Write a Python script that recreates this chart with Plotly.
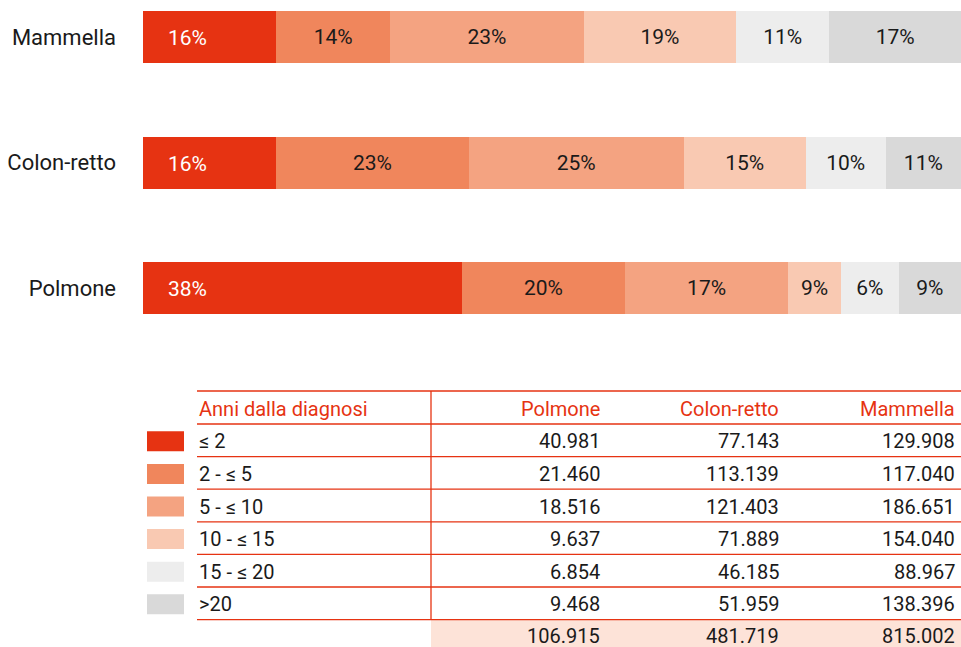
import plotly.graph_objects as go

W, H = 961, 647

# ---------------- data ----------------
categories = ["Polmone", "Colon-retto", "Mammella"]
classes = ["≤ 2", "2 - ≤ 5", "5 - ≤ 10", "10 - ≤ 15", "15 - ≤ 20", ">20"]
colors = ["#e63312", "#f0865c", "#f4a381", "#f9c9b2", "#ededed", "#d9d9d9"]

# cases by years since diagnosis (table)
polmone = [40981, 21460, 18516, 9637, 6854, 9468]
colon_retto = [77143, 113139, 121403, 71889, 46185, 51959]
mammella = [129908, 117040, 186651, 154040, 88967, 138396]
totals = [106915, 481719, 815002]

# share of the bar length per class, as drawn (%)
share_polmone = [39.0, 19.9, 20.0, 6.4, 7.1, 7.6]
share_colon_retto = [16.3, 23.5, 26.3, 14.9, 9.8, 9.2]
share_mammella = [16.3, 13.9, 23.7, 18.6, 11.4, 16.1]

# printed percentage labels
label_polmone = ["38%", "20%", "17%", "9%", "6%", "9%"]
label_colon_retto = ["16%", "23%", "25%", "15%", "10%", "11%"]
label_mammella = ["16%", "14%", "23%", "19%", "11%", "17%"]

table_header = ["Anni dalla diagnosi", "Polmone", "Colon-retto", "Mammella"]

# ---------------- helpers ----------------
FONT = "Roboto"
RED = "#e63312"
TXT = "#1a1a1a"


def px(x):
    return x / W


def py(y):
    return 1 - y / H


def fmt(v):
    return f"{v:,}".replace(",", ".")


shares = [share_polmone, share_colon_retto, share_mammella]
labels = [label_polmone, label_colon_retto, label_mammella]

fig = go.Figure()
for i, cls in enumerate(classes):
    fig.add_trace(go.Bar(
        y=categories,
        x=[s[i] for s in shares],
        orientation="h",
        name=cls,
        marker=dict(color=colors[i], line=dict(width=0)),
        text=[l[i] for l in labels] if i > 0 else None,
        textposition="inside" if i > 0 else "none",
        insidetextanchor="middle",
        textangle=0,
        textfont=dict(family=FONT, size=21, color=TXT),
        hoverinfo="skip",
    ))

annotations = []
# first-class labels (white, near the bar start)
for c, l in zip(categories, labels):
    annotations.append(dict(
        x=0, y=c, xref="x", yref="y", text=l[0], showarrow=False,
        xanchor="left", yanchor="middle", xshift=23, yshift=-1,
        font=dict(family=FONT, size=21, color="white"),
    ))

# ---------------- table ----------------
x_left, x_vline, x_right = 197, 431, 961
col_right = [602, 781, 957]
y_top = 391
y_head = 424
row_h = 32.6
n_rows = len(classes)
y_lines = [y_top, y_head] + [y_head + row_h * (k + 1) for k in range(n_rows)]
y_total_top = y_lines[-1]
TFS = 20

shapes = []
# total row background
shapes.append(dict(type="rect", xref="paper", yref="paper",
                   x0=px(x_vline), x1=px(x_right), y0=py(y_total_top + 0.5), y1=py(H + 10),
                   fillcolor="#fde3d8", line=dict(width=0), layer="below"))
for yl in y_lines:
    shapes.append(dict(type="line", xref="paper", yref="paper",
                       x0=px(x_left), x1=px(x_right), y0=py(yl), y1=py(yl),
                       line=dict(color=RED, width=1.3)))
shapes.append(dict(type="line", xref="paper", yref="paper",
                   x0=px(x_vline), x1=px(x_vline), y0=py(y_top), y1=py(y_total_top),
                   line=dict(color=RED, width=1.3)))

# header
head_y = (y_top + y_head) / 2 + 1
annotations.append(dict(x=px(x_left), y=py(head_y), xref="paper", yref="paper",
                        text=table_header[0], showarrow=False, xanchor="left", yanchor="middle",
                        font=dict(family=FONT, size=TFS, color=RED)))
for j in range(3):
    annotations.append(dict(x=px(col_right[j]), y=py(head_y), xref="paper", yref="paper",
                            text=table_header[j + 1], showarrow=False, xanchor="right",
                            yanchor="middle", font=dict(family=FONT, size=TFS, color=RED)))

cols = [polmone, colon_retto, mammella]
for k in range(n_rows):
    yc = y_head + row_h * (k + 0.5) + 1
    # legend swatch
    shapes.append(dict(type="rect", xref="paper", yref="paper",
                       x0=px(147), x1=px(184), y0=py(yc - 10), y1=py(yc + 10),
                       fillcolor=colors[k], line=dict(width=0)))
    annotations.append(dict(x=px(x_left), y=py(yc), xref="paper", yref="paper",
                            text=classes[k], showarrow=False, xanchor="left", yanchor="middle",
                            font=dict(family=FONT, size=TFS, color=TXT)))
    for j in range(3):
        annotations.append(dict(x=px(col_right[j]), y=py(yc), xref="paper", yref="paper",
                                text=fmt(cols[j][k]), showarrow=False, xanchor="right",
                                yanchor="middle", font=dict(family=FONT, size=TFS, color=TXT)))

yc_tot = y_total_top + row_h / 2
for j in range(3):
    annotations.append(dict(x=px(col_right[j]), y=py(yc_tot), xref="paper", yref="paper",
                            text=fmt(totals[j]), showarrow=False, xanchor="right",
                            yanchor="middle", font=dict(family=FONT, size=TFS, color=TXT)))

# ---------------- layout ----------------
bar_step = 125.5
y_bottom_px = 288 + bar_step / 2
fig.update_layout(
    width=W, height=H,
    margin=dict(l=0, r=0, t=0, b=0),
    paper_bgcolor="white", plot_bgcolor="white",
    barmode="stack",
    bargap=1 - 52 / bar_step,
    showlegend=False,
    uniformtext=dict(minsize=21, mode="show"),
    xaxis=dict(domain=[px(143), 1], range=[0, 100], visible=False, fixedrange=True),
    yaxis=dict(domain=[py(y_bottom_px), 1], range=[-0.5, 2 + 37 / bar_step],
               type="category", categoryorder="array", categoryarray=categories,
               showgrid=False, showline=False, zeroline=False, ticks="",
               ticklabelstandoff=26, automargin=False,
               tickfont=dict(family=FONT, size=22, color=TXT)),
    shapes=shapes,
    annotations=annotations,
)

fig.write_html(
    "out.html",
    config={"displayModeBar": False},
    post_script="document.body.style.margin='0';document.body.style.overflow='hidden';",
)
